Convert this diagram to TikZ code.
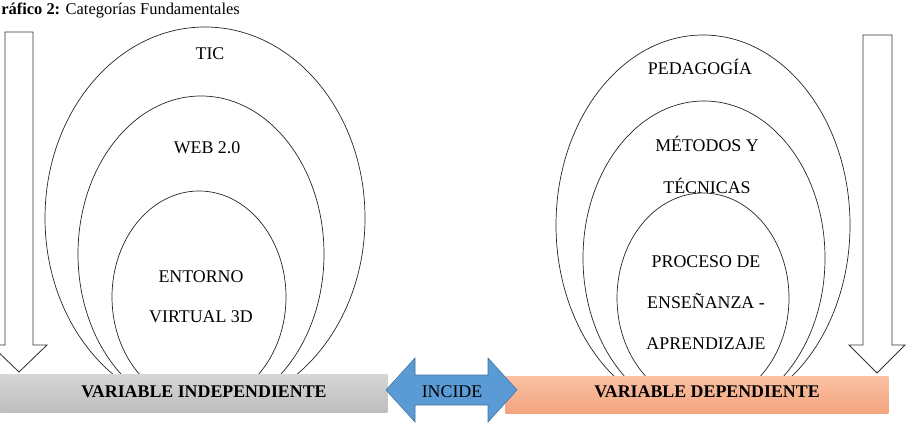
\documentclass[tikz,border=0pt]{standalone}
\usepackage{fontspec}
\setmainfont{Liberation Serif}
\usetikzlibrary{positioning}
\usetikzlibrary{calc}
\definecolor{barGrayTop}{HTML}{D6D6D6}
\definecolor{barGrayBot}{HTML}{BEBEBE}
\definecolor{barOrangeTop}{HTML}{F9C1A3}
\definecolor{barOrangeBot}{HTML}{F3A47E}
\definecolor{incideFill}{HTML}{5B9BD5}
\definecolor{incideLine}{HTML}{41719C}
\def\labelFont{\fontsize{12.7}{15}\selectfont}
\def\titleFont{\fontsize{11.7}{13}\selectfont}
\tikzset{% Categorias styles
  layer/.style    = {draw=black!85, line width=0.5pt},
  category/.style = {font=\labelFont, anchor=base, inner sep=0},
  bigarrow/.style = {draw=black!80, fill=white, line width=0.6pt},
  varbar/.style   = {rectangle, anchor=north west, inner sep=0},
  bartext/.style  = {font=\labelFont\bfseries, anchor=base, inner sep=0},
  incide/.style   = {draw=incideLine, fill=incideFill, line width=0.4pt},
}
\begin{document}
\begin{tikzpicture}[x=0.025cm, y=-0.025cm]
      \useasboundingbox (0,0) rectangle (911,426);

      % Title
      \node[font=\titleFont, anchor=base west, inner sep=0] (Title) at (1,15)
      {\textbf{ráfico 2:} Categorías Fundamentales};

      % Down arrows
      \draw[bigarrow] (5,32) -- (33,32) -- (33,345) -- (47,345) -- (19,372)
        -- (-9,345) -- (5,345) -- cycle;
      \draw[bigarrow] (863,35) -- (892,35) -- (892,345) -- (905,345) -- (877,373)
        -- (849,345) -- (863,345) -- cycle;

      % Nested categories
      \begin{scope}
        \clip (0,0) rectangle (911,376);
        \draw[layer] (205,218) ellipse [x radius=160, y radius=191];
        \draw[layer] (201,254) ellipse [x radius=123, y radius=158];
        \draw[layer] (199,297) ellipse [x radius=87, y radius=106];
        \draw[layer] (703,225) ellipse [x radius=147, y radius=190];
        \draw[layer] (704,258) ellipse [x radius=121, y radius=157];
        \draw[layer] (703,298) ellipse [x radius=86, y radius=105];
      \end{scope}

      % Independent side
      \node[category] (TIC) at (210,60) {TIC};
      \node[category] (WEB) at (207,153) {WEB 2.0};
      \node[category] (ENT) at (201,282) {ENTORNO};
      \node[category] (VIR) at (201,322) {VIRTUAL 3D};

      % Dependent side
      \node[category] (PED) at (700,75) {PEDAGOGÍA};
      \node[category] (MET) at (707,152) {MÉTODOS Y};
      \node[category] (TEC) at (707,193) {TÉCNICAS};
      \node[category] (PRO) at (706,267) {PROCESO DE};
      \node[category] (ENS) at (706,308) {ENSEÑANZA -};
      \node[category] (APR) at (706,349) {APRENDIZAJE};

      % Variables
      \node[varbar, top color=barGrayTop, bottom color=barGrayBot,
        minimum width=9.675cm, minimum height=0.95cm] (VI) at (0,374) {};
      \node[bartext] (VItext) at (204,397) {VARIABLE INDEPENDIENTE};

      \node[varbar, top color=barOrangeTop, bottom color=barOrangeBot,
        minimum width=9.575cm, minimum height=0.925cm] (VD) at (505,376) {};
      \node[bartext] (VDtext) at (707,397) {VARIABLE DEPENDIENTE};

      % Incide
      \draw[incide] (386,390) -- (415,358) -- (415,375) -- (488,375) -- (488,358)
        -- (517,390) -- (488,422) -- (488,405) -- (415,405) -- (415,422) -- cycle;
      \node[category] (INC) at (452,397) {INCIDE};
\end{tikzpicture}
\end{document}
